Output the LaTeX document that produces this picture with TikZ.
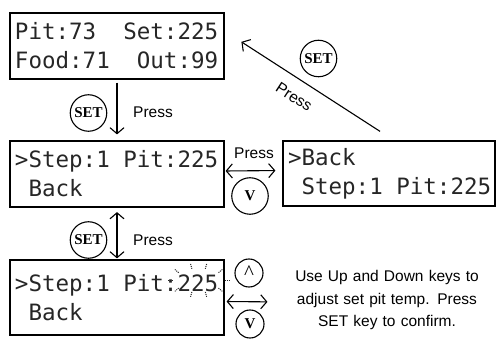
\documentclass[tikz,border=0pt]{standalone}
\usepackage{fontspec}
\setmainfont{Liberation Sans}
\newfontfamily\lcdfont{DejaVu Sans Mono}
\newfontfamily\keyfont{Liberation Serif}
\usetikzlibrary{arrows.meta,calc}
\newcommand{\lcdspace}{\hphantom{0}}
\tikzset{
  lcd/.style={
    draw,
    line width=1.2pt,
    shape = rectangle,
    minimum width=214pt,
    minimum height=66pt,
    text width=204pt,
    inner xsep=5pt,
    inner ysep=0pt,
    align=left,
    text=black!85,
    font=\lcdfont\fontsize{22.5}{29}\selectfont
  },
  key/.style={
    draw,
    line width=1.1pt,
    shape = circle,
    minimum size=36.5pt,
    inner sep=0pt,
    font=\keyfont\bfseries\fontsize{15}{15}\selectfont
  },
  smallkey/.style={
    key,
    minimum size=28pt
  },
}
\tikzset{
  press/.style={
    font=\fontsize{15.5}{18}\selectfont,
    inner sep=1pt
  },
  flow/.style={
    line width=1.1pt,
    -{Straight Barb[length=6pt,width=14pt]}
  },
  both/.style={
    line width=1.1pt,
    {Straight Barb[length=6pt,width=14pt]}-{Straight Barb[length=6pt,width=14pt]}
  },
}

\begin{document}
\begin{tikzpicture}[x=1pt,y=-1pt]
\useasboundingbox (0,0) rectangle (496,339);
% lcd screens
\node[lcd] (home) at (117,46) {Pit:73\lcdspace\lcdspace Set:225\\Food:71\lcdspace\lcdspace Out:99};
\node[lcd] (step) at (117,174) {>Step:1\lcdspace Pit:225\\\lcdspace Back};
\node[lcd, minimum width=212pt, text width=202pt, minimum height=65pt] (back) at (389,173.5) {>Back\\\lcdspace Step:1\lcdspace Pit:225};
\node[lcd, minimum height=75pt] (edit) at (117,297.5) {>Step:1\lcdspace Pit:225\\\lcdspace Back};
% keys
\node[key] (set1) at (88.5,113) {SET};
\node[key] (set2) at (88.5,240) {SET};
\node[key] (set3) at (318.5,58.5) {SET};
\node[key] (down1) at (250,196) {V};
\node[smallkey, font=\keyfont\fontsize{21}{21}\selectfont] (up) at (249,273) {\raisebox{-1.5pt}{\textasciicircum}};
\node[smallkey] (down2) at (250,324) {V};
% labels
\node[press] (p1) at (153,112) {Press};
\node[press] (p2) at (153,240) {Press};
\node[press] (p3) at (254,153) {Press};
\node[press, rotate=-33] (p4) at (294,97) {Press};
\node[font=\fontsize{15.5}{22.5}\selectfont, text width=200pt, align=center] (note) at (387,300)
  {Use Up and Down keys to\\adjust set pit temp. Press\\SET key to confirm.};
% connectors
\draw[flow, shorten <=3pt, shorten >=6pt] (home) -- (step);
\draw[both, shorten <=4.5pt, shorten >=1pt] (step) -- (edit);
\draw[both, shorten <=1pt, shorten >=7pt] ([yshift=3pt]step.east) -- ([yshift=3pt]back.west);
\draw[flow, shorten <=16.6pt, shorten >=20pt] ([xshift=5pt]back.north) -- ([yshift=15pt]home.east);
\draw[both, shorten <=2pt, shorten >=16pt] ([yshift=-4pt]edit.east) -- ([yshift=-2pt]note.west);
% blinking digits
\coordinate (blink) at ([shift={(-26,21)}]edit.north east);
\foreach \a in {0,40,75,105,140,180,220,255,285,320}{
  \draw[line width=1pt, densely dotted, black!85] ($(blink)+(\a:26 and 12)$) -- ($(blink)+(\a:31 and 17)$); }
\end{tikzpicture}
\end{document}
